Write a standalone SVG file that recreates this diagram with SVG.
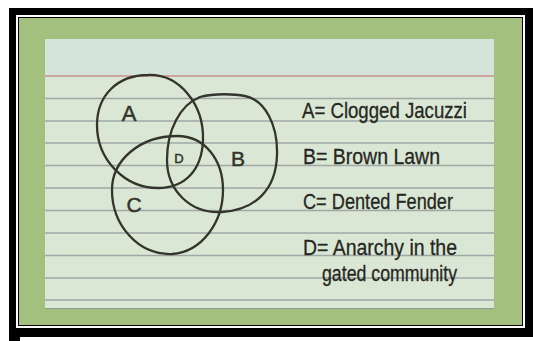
<svg xmlns="http://www.w3.org/2000/svg" width="533" height="341" viewBox="0 0 533 341">
<style>
.rule{stroke:#9ea9a6;stroke-width:1.4;fill:none}
.set{fill:none;stroke:#33342b;stroke-width:2.3;stroke-linejoin:round}
.lab{font-family:"Liberation Sans",Arial,sans-serif;fill:#33342b;text-anchor:middle;stroke:#33342b;stroke-width:0.5}
.leg{font-family:"Liberation Sans",Arial,sans-serif;fill:#26271f;font-size:22px;stroke:#26271f;stroke-width:0.3}
</style>
<rect x="0" y="0" width="533" height="341" fill="#ffffff"/>
<rect x="9" y="8" width="524" height="329" fill="#000000"/>
<rect x="9" y="337" width="11" height="4" fill="#000000"/>
<rect x="17" y="16" width="507" height="311" fill="none" stroke="#ffffff" stroke-width="2"/>
<rect x="19" y="18" width="503" height="307" fill="#a3c07f"/>
<g id="card">
<rect x="45" y="39" width="449" height="270" fill="#dbe7d5"/>
<rect x="45" y="39" width="449" height="36" fill="#d5e4da"/>
<line x1="45" y1="76" x2="494" y2="76" stroke="#c98f8c" stroke-width="1.6"/>
<line class="rule" x1="45" y1="98.5" x2="494" y2="98.5"/>
<line class="rule" x1="45" y1="121" x2="494" y2="121"/>
<line class="rule" x1="45" y1="143" x2="494" y2="143"/>
<line class="rule" x1="45" y1="165.5" x2="494" y2="165.5"/>
<line class="rule" x1="45" y1="188" x2="494" y2="188"/>
<line class="rule" x1="45" y1="210.5" x2="494" y2="210.5"/>
<line class="rule" x1="45" y1="233" x2="494" y2="233"/>
<line class="rule" x1="45" y1="255.5" x2="494" y2="255.5"/>
<line class="rule" x1="45" y1="278" x2="494" y2="278"/>
<line class="rule" x1="45" y1="300" x2="494" y2="300"/>
<line x1="45" y1="308.5" x2="494" y2="308.5" stroke="#8e9a92" stroke-width="1.2"/>
</g>
<g id="set-A">
<path class="set" d="M 148 75 C 180 74, 204 105, 203 140 C 202 170, 185 188, 158 188 C 125 188, 97 160, 97 125 C 97 95, 118 75, 148 75 Z"/>
<text class="lab" x="129" y="121" font-size="22">A</text>
</g>
<g id="set-B">
<path class="set" d="M 200 97 C 215 93, 235 94, 245 96 C 265 100, 278 125, 277 155 C 276 190, 255 210, 222 212 C 190 214, 167 190, 167 160 C 167 130, 180 105, 200 97 Z"/>
<text class="lab" x="238" y="166" font-size="21">B</text>
</g>
<g id="set-C">
<path class="set" d="M 177 136 C 205 136, 223 160, 223 190 C 223 222, 202 252, 172 254 C 138 255, 112 225, 112 190 C 112 160, 140 136, 177 136 Z"/>
<text class="lab" x="134" y="212" font-size="21">C</text>
</g>
<g id="set-D">
<text class="lab" x="179" y="163" font-size="13">D</text>
</g>
<g id="legend">
<text class="leg" x="302" y="118" textLength="165" lengthAdjust="spacingAndGlyphs">A= Clogged Jacuzzi</text>
<text class="leg" x="303" y="164" textLength="137" lengthAdjust="spacingAndGlyphs">B= Brown Lawn</text>
<text class="leg" x="303" y="209" textLength="150" lengthAdjust="spacingAndGlyphs">C= Dented Fender</text>
<text class="leg" x="303" y="255" textLength="154" lengthAdjust="spacingAndGlyphs">D= Anarchy in the</text>
<text class="leg" x="322" y="281" textLength="135" lengthAdjust="spacingAndGlyphs">gated community</text>
</g>
</svg>
